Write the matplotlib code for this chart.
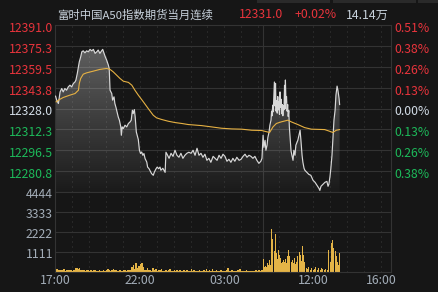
"""
Intraday chart of the FTSE China A50 front-month futures (night + day session).
"""
import numpy as np
import matplotlib
matplotlib.use("Agg")
import matplotlib.pyplot as plt
from matplotlib.patches import PathPatch, Rectangle

plt.rcParams["font.family"] = ["Noto Sans CJK SC", "DejaVu Sans"]

BG = "#161616"
GRID = "#333333"
RED = "#e8343c"
GREEN = "#1db95a"
FLAT = "#d2dce6"
AXIS_TEXT = "#a3adb8"
HEAD_TEXT = "#c8d2dc"
LINE = "#d8d8d8"
AVG = "#e6b143"
VOL = "#e4b447"
FS = 8.8
FS_TITLE = 8.2

TITLE = "富时中国A50指数期货当月连续"
VOLUME_TEXT = "14.14万"
PREV_CLOSE = 12328.0

# minutes of trading since 17:00 (night 17:00-05:15, day 09:00-16:35)
SESSION_MINUTES = 1190
NIGHT_MINUTES = 735

price_levels = [12391.0, 12375.3, 12359.5, 12343.8, 12328.0, 12312.3, 12296.5, 12280.8]
pct_labels = ["0.51%", "0.38%", "0.26%", "0.13%", "0.00%", "0.13%", "0.26%", "0.38%"]
price_bottom = 12265.0
volume_levels = [1111, 2222, 3333, 4444]
time_labels = ["17:00", "22:00", "03:00", "12:00", "16:00"]
time_label_minutes = [0, 300, 600, 915, 1155]
grid_hours = [18, 19, 20, 21, 22, 23, 0, 1, 2, 3, 4, 5, 10, 11, 12, 13, 14, 15, 16]

price_minute = [
    2, 6, 12, 18, 24, 29, 35, 41, 47, 53, 59, 65, 71, 74, 79, 83, 86, 91, 95, 100,
    106, 112, 118, 124, 130, 136, 142, 148, 153, 159, 165, 169, 174, 178, 183, 189, 192, 195, 201, 204,
    209, 212, 216, 221, 224, 228, 233, 235, 238, 242, 248, 254, 260, 266, 270, 274, 277, 281, 284, 288,
    291, 295, 299, 303, 307, 311, 315, 319, 325, 328, 333, 336, 342, 348, 352, 358, 362, 367, 372, 375,
    382, 390, 393, 397, 404, 411, 418, 425, 432, 439, 446, 453, 460, 467, 474, 482, 489, 496, 503, 510,
    517, 524, 531, 538, 545, 552, 560, 567, 574, 581, 588, 595, 602, 609, 616, 623, 630, 637, 644, 652,
    659, 666, 673, 680, 687, 694, 701, 708, 715, 722, 729, 733,
    737, 740, 744, 747, 751, 754, 758, 761, 765, 767, 769, 771, 773, 775, 777, 779, 781, 783, 785, 787,
    789, 791, 793, 795, 797, 799, 801, 803, 805, 807, 809, 811, 813, 815, 816, 818, 820, 822, 824, 826,
    828, 830, 832, 834, 836, 839, 843, 846, 850, 853, 857, 860, 864, 868, 871, 875, 878, 882, 885, 892,
    899, 906, 914, 921, 928, 935, 938, 942, 949, 956, 963, 967, 970, 974, 977, 981, 984, 988, 992, 995,
    999, 1002, 1006, 1008,
]
price = [
    12337.3, 12334.3, 12331.8, 12340.5, 12343.1, 12340.5, 12343.1, 12341.8, 12344.3, 12345.6,
    12344.3, 12346.9, 12348.1, 12349.4, 12354.5, 12359.4, 12363.2, 12367.0, 12370.8, 12371.5,
    12370.0, 12371.5, 12370.8, 12372.6, 12371.5, 12372.6, 12369.6, 12370.8, 12372.1, 12369.6,
    12371.5, 12372.6, 12369.6, 12367.0, 12364.5, 12360.7, 12358.2, 12341.8, 12339.3, 12334.3,
    12336.8, 12331.8, 12328.8, 12324.2, 12321.6, 12319.2, 12314.1, 12307.8, 12314.1, 12312.9,
    12315.4, 12314.1, 12316.7, 12317.9, 12319.2, 12326.7, 12324.2, 12327.2, 12321.6, 12310.3,
    12307.8, 12304.6, 12296.5, 12294.0, 12295.2, 12292.7, 12294.0, 12290.2, 12287.6, 12283.8,
    12282.6, 12281.4, 12278.9, 12277.6, 12280.1, 12282.6, 12283.8, 12282.6, 12283.8, 12281.4,
    12282.9, 12279.8, 12295.0, 12293.5, 12290.4, 12294.2, 12291.9, 12296.5, 12292.7, 12291.2,
    12294.2, 12290.4, 12292.7, 12294.2, 12295.0, 12294.2, 12296.5, 12292.7, 12298.0, 12292.7,
    12294.2, 12291.2, 12293.5, 12288.9, 12290.4, 12287.4, 12291.9, 12290.4, 12288.9, 12292.7,
    12290.4, 12293.5, 12291.9, 12288.2, 12289.7, 12287.4, 12290.4, 12288.2, 12291.2, 12288.9,
    12289.7, 12291.9, 12293.5, 12291.2, 12292.7, 12291.9, 12290.4, 12291.9, 12288.9, 12286.6,
    12288.2, 12290.4,
    12307.8, 12298.7, 12304.0, 12296.5, 12300.3, 12306.3, 12310.1, 12315.4, 12319.2, 12326.0,
    12322.5, 12330.5, 12325.5, 12336.0, 12348.0, 12330.0, 12347.0, 12326.0, 12334.0, 12324.5,
    12337.0, 12327.0, 12333.0, 12323.5, 12340.5, 12329.0, 12335.0, 12324.0, 12331.0, 12322.5,
    12330.0, 12327.0, 12345.5, 12328.0, 12349.5, 12333.0, 12337.0, 12326.0, 12331.0, 12322.0,
    12326.5, 12314.0, 12308.0, 12302.0, 12296.0, 12292.7, 12288.9, 12296.5, 12292.7, 12300.3,
    12302.5, 12304.0, 12307.8, 12311.6, 12304.0, 12292.7, 12287.4, 12282.9, 12281.4, 12279.8,
    12278.3, 12277.6, 12273.8, 12272.3, 12270.0, 12267.7, 12266.2, 12269.3, 12270.8, 12272.3,
    12273.0, 12269.3, 12270.8, 12276.8, 12282.9, 12292.7, 12304.0, 12319.2, 12326.7, 12338.1,
    12344.9, 12341.8, 12335.8, 12331.0,
]

avg_minute = [
    4, 12, 29, 53, 71, 83, 86, 91, 100, 112, 136, 159, 183, 195, 206, 218, 230, 242, 260, 272,
    283, 295, 313, 330, 348, 360, 378, 401, 425, 449, 472, 519, 555, 590, 626, 661, 697, 732,
    743, 760, 772, 784, 801, 825, 837, 860, 884, 908, 955, 973, 984, 996, 1008,
]
avg_price = [
    12333.0, 12334.3, 12336.3, 12338.1, 12339.3, 12341.8, 12346.9, 12350.7, 12353.9, 12354.9,
    12356.2, 12357.5, 12358.2, 12357.5, 12355.7, 12353.2, 12350.7, 12348.6, 12347.7, 12345.6,
    12341.8, 12338.1, 12333.0, 12328.0, 12322.9, 12320.9, 12319.7, 12318.4, 12317.4, 12316.7,
    12315.9, 12315.1, 12314.1, 12313.1, 12312.6, 12312.4, 12311.6, 12311.4,
    12310.8, 12309.9, 12314.1, 12316.7, 12317.9, 12319.2, 12317.9, 12315.9, 12313.6, 12312.4,
    12312.1, 12310.8, 12309.9, 12311.6, 12312.1,
]

# night session volume, one value every 5 minutes from 17:00
night_volume = [
    120, 150, 90, 80, 110, 70, 140, 60, 90, 70,
    100, 80, 60, 90, 190, 210, 170, 200, 120, 90,
    80, 60, 90, 70, 50, 80, 60, 70, 100, 60,
    50, 70, 60, 50, 80, 60, 70, 130, 90, 60,
    80, 150, 90, 70, 60, 110, 80, 60, 70, 90,
    60, 80, 100, 70, 240, 380, 150, 510, 180, 320,
    420, 490, 240, 110, 90, 180, 70, 120, 60, 190,
    80, 170, 60, 80, 70, 130, 60, 50, 90, 60,
    70, 150, 60, 50, 70, 60, 90, 50, 110, 60,
    50, 70, 60, 120, 50, 60, 130, 50, 70, 60,
    50, 60, 80, 50, 60, 70, 50, 150, 60, 70,
    50, 140, 60, 50, 70, 60, 50, 70, 60, 50,
    60, 110, 190, 60, 50, 70, 60, 50, 60, 70,
    130, 140, 60, 50, 60, 70, 50, 60, 50, 40,
    60, 30, 70, 60, 80, 60, 120,
]
day_volume_minute = [
    737, 741, 745, 749, 752, 756, 759, 762, 765, 768, 772, 776, 779, 782, 785, 788, 790, 793, 795, 799,
    802, 805, 808, 811, 814, 817, 820, 822, 825, 828, 832, 836, 839, 842, 845, 848, 851, 854, 857, 860,
    865, 869, 872, 875, 879, 884, 889, 894, 899, 904, 909, 914, 919, 924, 929, 934, 939, 944, 949, 954,
    959, 964, 967, 970, 975, 978, 983, 988, 992, 997, 1002, 1005, 1008,
]
day_volume = [
    720, 280, 300, 250, 510, 400, 660, 380, 4420, 2360, 1800, 1130, 600, 2080, 1040, 700, 1230, 650, 945, 755,
    500, 567, 450, 660, 520, 700, 480, 850, 600, 1190, 850, 567, 450, 660, 500, 755, 450, 567, 520, 890,
    1075, 945, 600, 1420, 945, 567, 190, 150, 250, 120, 200, 90, 150, 260, 120, 180, 100, 220, 130, 90,
    160, 120, 300, 1190, 567, 1605, 1795, 1320, 1130, 850, 567, 400, 1040,
]


def hour_to_minute(hour):
    """
    Position of a clock hour on the trading-minute axis.
    """
    if hour >= 17:
        return (hour - 17) * 60
    if hour < 9:
        return (hour + 7) * 60
    return NIGHT_MINUTES + (hour - 9) * 60


def style_axes(ax):
    """
    Dark panel with thin borders, hourly dotted lines and the session break.
    """
    ax.set_facecolor(BG)
    for spine in ax.spines.values():
        spine.set_color(GRID)
        spine.set_linewidth(0.8)
    ax.set_xticks([])
    ax.set_yticks([])
    ax.set_xlim(0, SESSION_MINUTES)
    for hour in grid_hours:
        ax.axvline(hour_to_minute(hour), color="#3a3a3a", lw=0.72,
                   linestyle=(0, (1, 4)), zorder=0)
    ax.axvline(NIGHT_MINUTES, color=GRID, lw=0.8, zorder=0)


def level_color(value):
    if value > PREV_CLOSE:
        return RED
    if value < PREV_CLOSE:
        return GREEN
    return FLAT


def plot_price(ax):
    style_axes(ax)
    ax.set_ylim(price_bottom, price_levels[0])
    for level in price_levels[1:]:
        ax.axhline(level, color=GRID, lw=0.8, zorder=0)

    # grey gradient under the price line
    poly = ax.fill_between(price_minute, price, price_bottom, color="none", lw=0)
    clip = PathPatch(poly.get_paths()[0], transform=ax.transData, fc="none", ec="none")
    ax.add_patch(clip)
    grad = np.ones((200, 1, 4))
    grad[:, 0, 3] = np.linspace(0.36, 0.02, 200)
    im = ax.imshow(grad, extent=[0, SESSION_MINUTES, price_bottom, price_levels[0]],
                   aspect="auto", origin="upper", zorder=1)
    im.set_clip_path(clip)

    ax.plot(price_minute, price, color=LINE, lw=0.85, zorder=3)
    ax.plot(avg_minute, avg_price, color=AVG, lw=0.8, zorder=4)
    ax.set_xlim(0, SESSION_MINUTES)
    ax.set_ylim(price_bottom, price_levels[0])

    for level, pct in zip(price_levels, pct_labels):
        color = level_color(level)
        ax.annotate("%.1f" % level, xy=(0, level), xycoords=("axes fraction", "data"),
                    xytext=(-2, -3.5), textcoords="offset pixels",
                    ha="right", va="center", fontsize=FS, color=color)
        ax.annotate(pct, xy=(1, level), xycoords=("axes fraction", "data"),
                    xytext=(3, -3.5), textcoords="offset pixels",
                    ha="left", va="center", fontsize=FS, color=color)


def plot_volume(ax):
    style_axes(ax)
    ax.set_ylim(0, volume_levels[-1])
    for level in volume_levels[:-1]:
        ax.axhline(level, color=GRID, lw=0.8, zorder=0)
    night_minute = np.arange(len(night_volume)) * 5
    ax.bar(night_minute, night_volume, width=5, align="edge", color=VOL, lw=0, zorder=2)
    ax.bar(day_volume_minute, day_volume, width=3.5, color=VOL, lw=0, zorder=2)
    ax.set_xlim(0, SESSION_MINUTES)

    for level in volume_levels:
        ax.annotate(str(level), xy=(0, level), xycoords=("axes fraction", "data"),
                    xytext=(-2, -3), textcoords="offset pixels",
                    ha="right", va="center", fontsize=FS, color=AXIS_TEXT)
    for minute, label in zip(time_label_minutes, time_labels):
        ax.annotate(label, xy=(minute, 0), xycoords="data",
                    xytext=(0, -9), textcoords="offset pixels",
                    ha="center", va="center", fontsize=FS, color=AXIS_TEXT)


def draw_header(fig):
    W, H = 438.0, 292.0
    last = price[-1]
    change = (last - PREV_CLOSE) / PREV_CLOSE * 100
    y = 1 - 15 / H
    fig.text(57 / W, y, TITLE, fontsize=FS_TITLE, color=HEAD_TEXT, va="center")
    fig.text(238.5 / W, y, "%.1f" % last, fontsize=FS, color=level_color(last), va="center")
    fig.text(294 / W, y, "%+.2f%%" % change, fontsize=FS, color=level_color(last), va="center")
    fig.text(346 / W, y, VOLUME_TEXT, fontsize=FS, color=HEAD_TEXT, va="center")
    # bottoms of the toolbar tabs above the chart
    for x0, x1 in [(257, 330), (333, 416), (418, 438)]:
        fig.patches.append(Rectangle((x0 / W, 1 - 2.5 / H), (x1 - x0) / W, 2.5 / H,
                                     transform=fig.transFigure, color="#2a2a2a", lw=0))


if __name__ == "__main__":
    W, H = 438.0, 292.0
    fig = plt.figure(figsize=(4.38, 2.92), dpi=100, facecolor=BG)
    ax_price = fig.add_axes([55 / W, (H - 192) / H, 336 / W, 167 / H])
    ax_vol = fig.add_axes([55 / W, (H - 271.7) / H, 336 / W, 79.7 / H])
    plot_price(ax_price)
    plot_volume(ax_vol)
    draw_header(fig)
    fig.savefig("out.png", dpi=100, facecolor=BG)
